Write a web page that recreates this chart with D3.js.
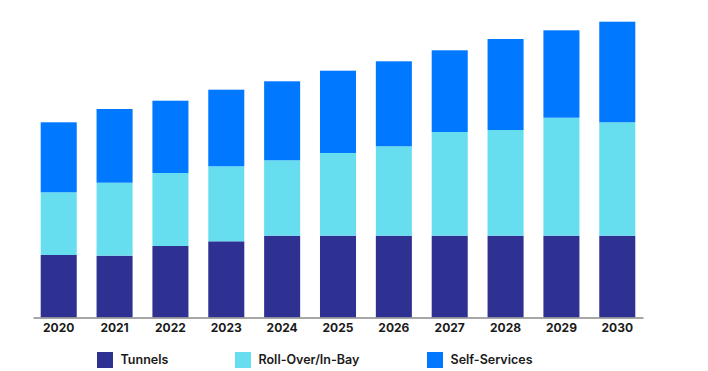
<!DOCTYPE html>
<html>
<head>
<meta charset="utf-8">
<script src="https://cdn.jsdelivr.net/npm/d3@7"></script>
<style>
  html, body { margin: 0; padding: 0; background: #ffffff; }
  svg { display: block; }
  text { font-family: Inter, "Open Sans", sans-serif; }
</style>
</head>
<body>
<svg id="chart" width="708" height="371"></svg>
<script>
const years = ["2020","2021","2022","2023","2024","2025","2026","2027","2028","2029","2030"];
const tunnels     = [62.5, 61.8, 71.5, 76.2, 81.8, 81.8, 81.8, 81.8, 81.8, 81.8, 81.8];
const rollOver    = [62.7, 73.0, 73.0, 75.0, 75.4, 82.7, 89.4, 103.7, 105.7, 118.0, 113.4];
const selfService = [70.0, 73.7, 72.3, 76.6, 79.0, 82.3, 85.0, 81.7, 91.0, 87.4, 100.6];
const seriesNames = ["Tunnels", "Roll-Over/In-Bay", "Self-Services"];
const seriesColors = ["#2E3192", "#66DEF0", "#0078FF"];

const rows = years.map((y, i) => ({
  year: y,
  "Tunnels": tunnels[i],
  "Roll-Over/In-Bay": rollOver[i],
  "Self-Services": selfService[i]
}));

const svg = d3.select("#chart");
const x = d3.scaleBand().domain(years).range([33, 643]).paddingInner(0.355).paddingOuter(0.138);
const y = d3.scaleLinear().domain([0, 300]).range([317.5, 17.5]);
const color = d3.scaleOrdinal().domain(seriesNames).range(seriesColors);

const stacked = d3.stack().keys(seriesNames)(rows);

svg.append("g").selectAll("g")
  .data(stacked)
  .join("g")
  .attr("fill", d => color(d.key))
  .selectAll("rect")
  .data(d => d)
  .join("rect")
  .attr("x", d => x(d.data.year))
  .attr("width", x.bandwidth())
  .attr("y", d => y(d[1]))
  .attr("height", d => y(d[0]) - y(d[1]));

const axis = svg.append("g")
  .attr("transform", "translate(0,317.5)")
  .call(d3.axisBottom(x).tickSize(0).tickPadding(6));
axis.select(".domain").attr("stroke", "#8a8a8a").attr("stroke-width", 1.5);
axis.selectAll("text")
  .attr("font-size", 12)
  .attr("font-weight", 700)
  .attr("fill", "#1a1a1a")
  .attr("font-family", "Inter, sans-serif");

const legendX = [97, 235, 427];
const legend = svg.append("g");
seriesNames.forEach((name, i) => {
  const g = legend.append("g").attr("transform", `translate(${legendX[i]},352)`);
  g.append("rect").attr("width", 16).attr("height", 16).attr("fill", color(name));
  g.append("text")
    .attr("x", 23.5).attr("y", 8.5)
    .attr("dominant-baseline", "middle")
    .attr("font-size", 12.5)
    .attr("font-weight", 600)
    .attr("fill", "#1a1a1a")
    .text(name);
});
</script>
</body>
</html>
